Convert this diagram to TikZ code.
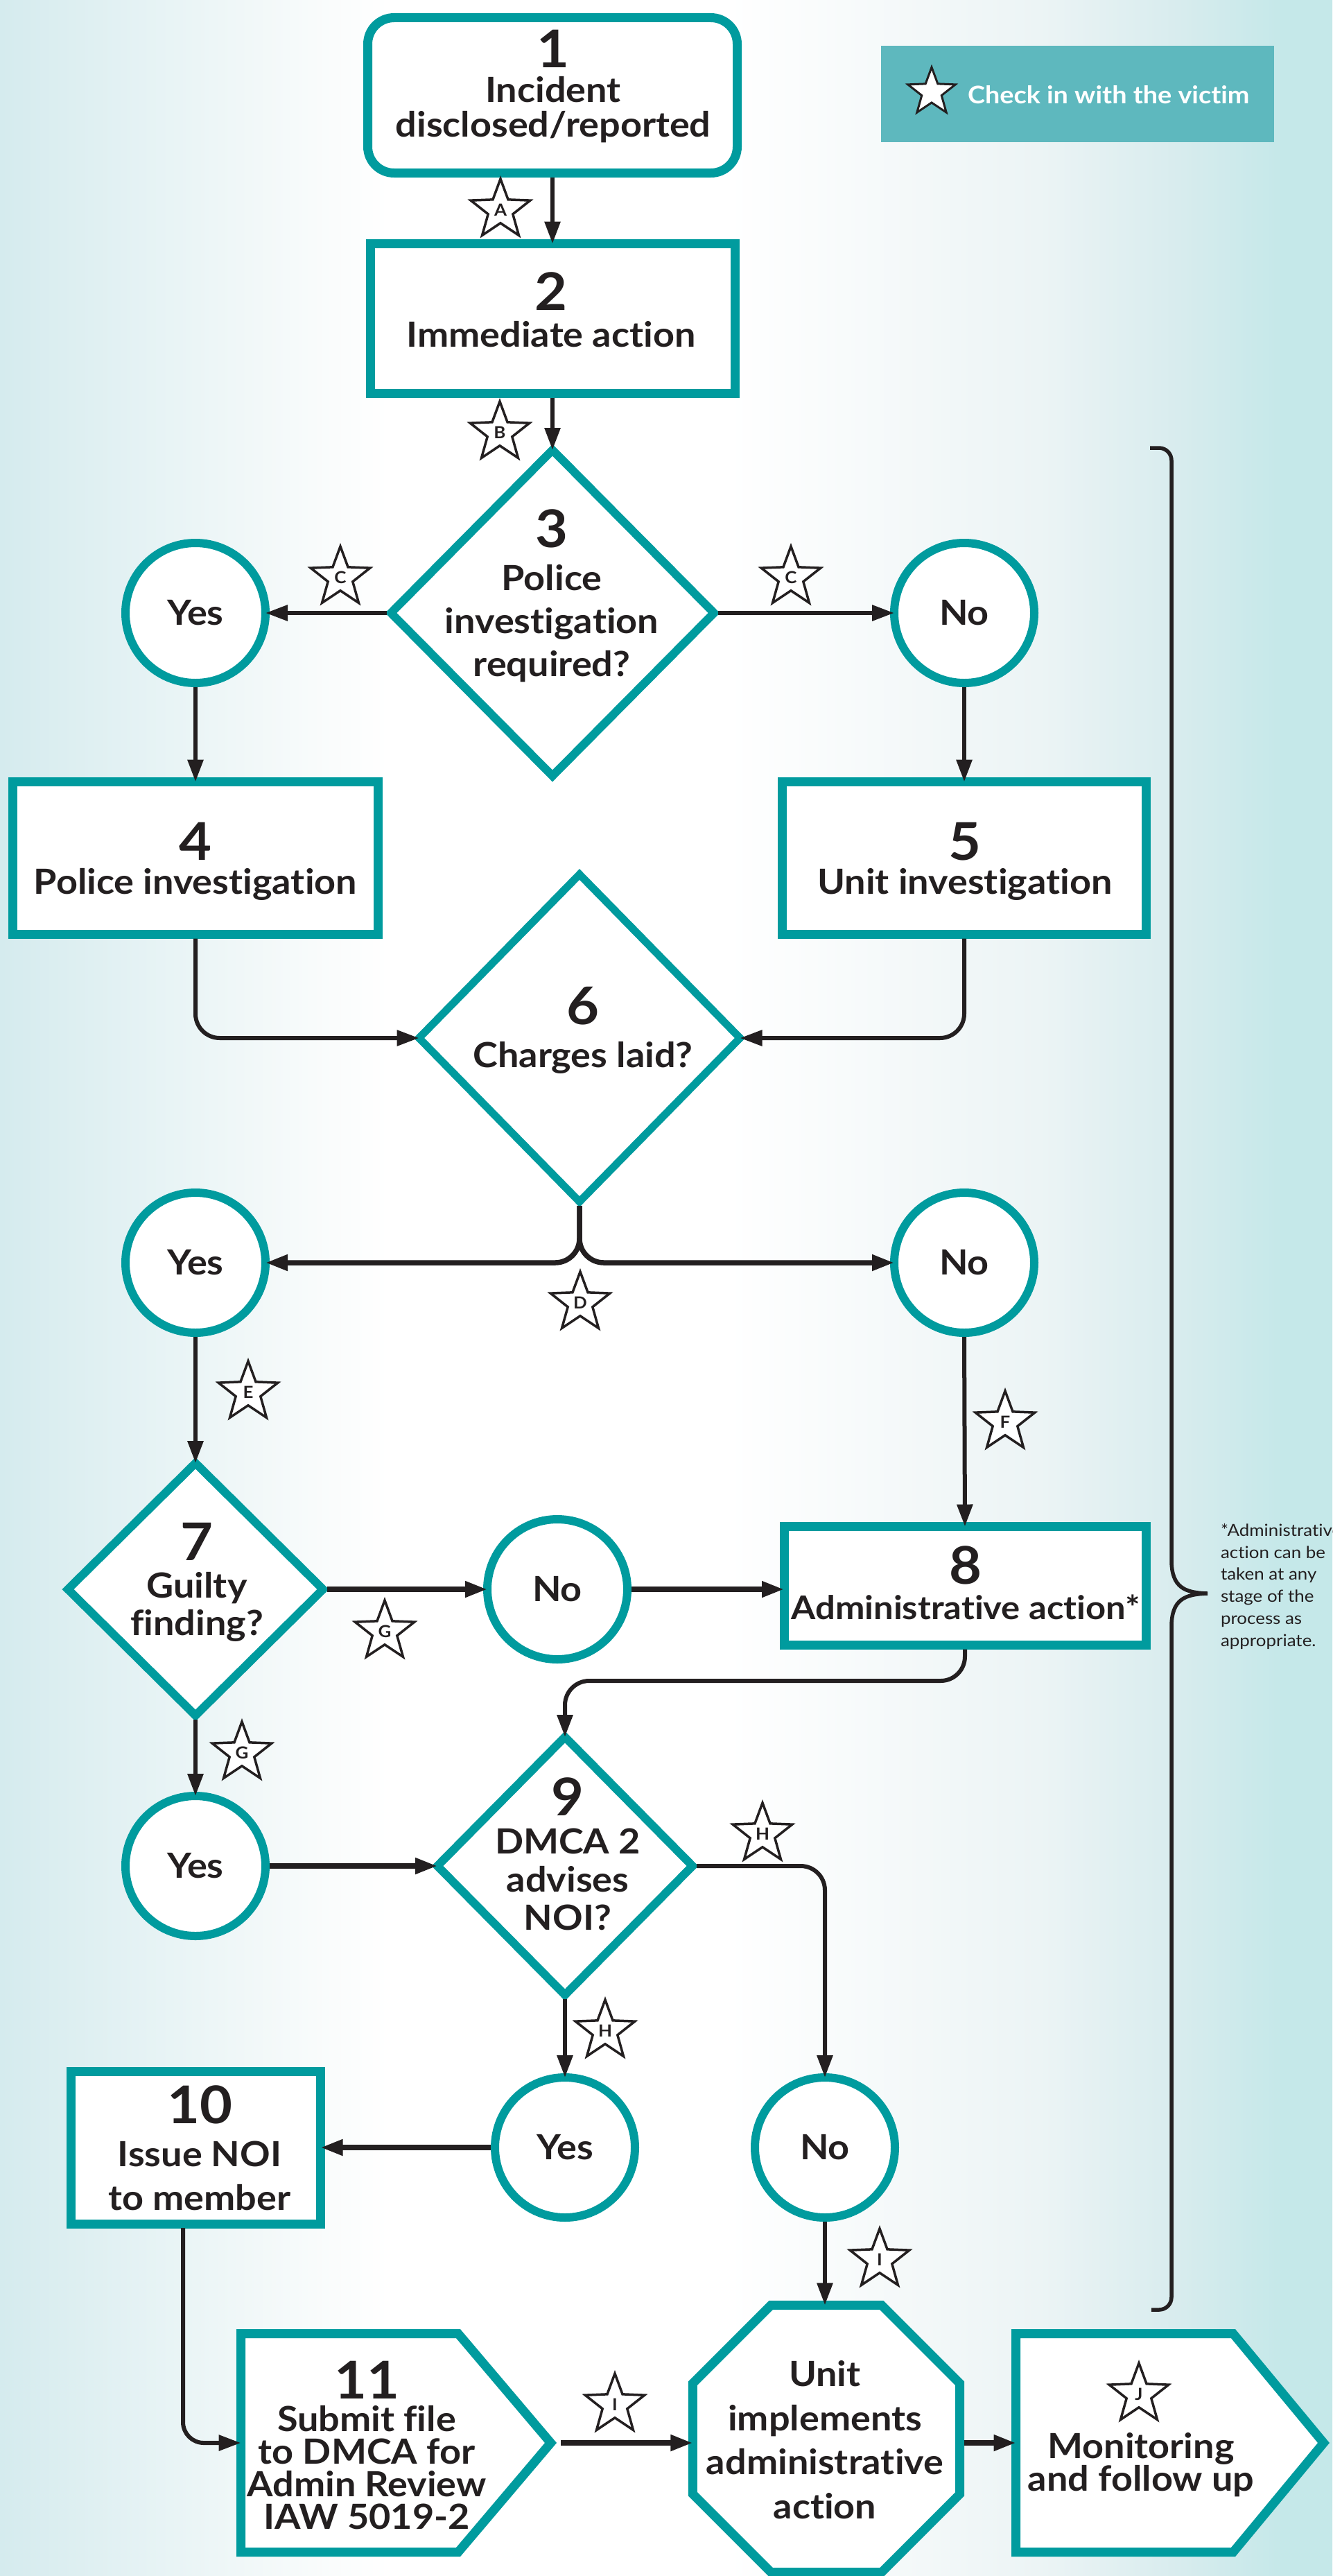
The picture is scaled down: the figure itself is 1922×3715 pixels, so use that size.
\documentclass[tikz,border=0pt]{standalone}
\usepackage{fontspec}
\setmainfont{Lato}[FakeStretch=1.08,Ligatures=NoCommon]
\usetikzlibrary{shapes.geometric,arrows.meta}
\definecolor{brand}{RGB}{0,155,158}
\definecolor{legendfill}{RGB}{94,184,190}
\definecolor{ink}{RGB}{35,31,32}
\definecolor{bgA}{RGB}{213,235,238}
\definecolor{bgB}{RGB}{248,251,251}
\definecolor{bgC}{RGB}{236,244,245}
\definecolor{bgD}{RGB}{216,236,238}
\definecolor{bgE}{RGB}{197,232,233}
\pgfdeclarehorizontalshading{bgshade}{100bp}{color(0bp)=(bgA); color(25bp)=(bgA); color(36.7bp)=(bgB); color(39.6bp)=(white); color(52.3bp)=(white); color(64bp)=(bgC); color(69.2bp)=(bgD); color(73.1bp)=(bgE); color(100bp)=(bgE)}
\newcommand\numf{\fontsize{75}{75}\selectfont\bfseries}
\begin{document}
\begin{tikzpicture}[x=1pt,y=-1pt,
  every node/.style={inner sep=0pt,outer sep=0pt},
  box/.style={rectangle,draw=brand,line width=13pt,fill=white},
  dia/.style={diamond,draw=brand,line width=12pt,fill=white},
  circ/.style={circle,draw=brand,line width=12pt,fill=white,minimum size=202pt,text=ink,font=\fontsize{50}{50}\selectfont\bfseries},
  lbl/.style={align=center,anchor=base,text=ink,font=\fontsize{50}{#1}\selectfont\bfseries},
  starn/.style={star,star points=5,star point ratio=2.4,draw=ink,line width=3.5pt,fill=white,minimum size=90pt,text=ink,font=\fontsize{24}{24}\selectfont\bfseries},
  conn/.style={draw=ink,line width=6pt,shorten <=6pt,-{Triangle[length=32pt,width=22pt]}},
  tconn/.style={conn,line width=7.5pt},
  penta/.style={draw=brand,line width=13pt,fill=white},
  brace/.style={draw=ink,line width=5.5pt},
]
\useasboundingbox (0,0) rectangle (1922,3715);
\begin{scope}
\clip (0,0) rectangle (1922,3715);
\fill[shading=bgshade] (0,0) rectangle (1922,3715);

% legend
\node[fill=legendfill,minimum width=567pt,minimum height=139pt] (leg) at (1554.5,135.5) {};
\node[starn,minimum size=72pt,line width=3pt] (legstar) at (1344,133) {};
\node[anchor=base west,text=white,font=\fontsize{35}{35}\selectfont\bfseries] (legtxt) at (1396,149) {Check in with the victim};

% shapes
\node[box,rounded corners=38pt,minimum width=533pt,minimum height=224pt] (n1) at (797,137.5) {};
\node[box,minimum width=526pt,minimum height=216pt] (n2) at (797,459.5) {};
\node[dia,minimum width=466pt,minimum height=470pt] (d3) at (797,884) {};
\node[circ] (y1) at (282,884) {Yes};
\node[circ] (no1) at (1391,884) {No};
\node[box,minimum width=527pt,minimum height=220pt] (n4) at (282,1237.5) {};
\node[box,minimum width=525pt,minimum height=220pt] (n5) at (1391,1237.5) {};
\node[dia,line width=11pt,minimum width=463pt,minimum height=472pt] (d6) at (836,1497) {};
\node[circ] (y2) at (282,1821) {Yes};
\node[circ] (no2) at (1391,1821) {No};
\node[dia,minimum width=368pt,minimum height=364pt] (d7) at (282,2292) {};
\node[circ] (no3) at (804,2292) {No};
\node[box,minimum width=522pt,minimum height=171pt] (n8) at (1392,2287) {};
\node[circ] (y4) at (282,2691) {Yes};
\node[dia,minimum width=368pt,minimum height=372pt] (d9) at (815,2691) {};
\node[circ] (y5) at (815,3097) {Yes};
\node[circ] (no5) at (1190,3097) {No};
\node[box,minimum width=360pt,minimum height=220pt] (n10) at (282.5,3097) {};
\node[regular polygon,regular polygon sides=8,draw=brand,line width=13pt,fill=white,minimum size=417pt] (oct) at (1192,3517) {};
\draw[penta] (347.5,3365.5) -- (661,3365.5) -- (794.5,3523) -- (661,3680.5) -- (347.5,3680.5) -- cycle;
\coordinate (b11w) at (347.5,3523);
\coordinate (b11e) at (803,3523);
\draw[penta] (1465.5,3365.5) -- (1779,3365.5) -- (1909.5,3523) -- (1779,3680.5) -- (1465.5,3680.5) -- cycle;
\coordinate (b12w) at (1465.5,3523);

% texts
\node[lbl=50] (t1) at (798,197) {{\numf 1}\\Incident\\disclosed/reported};
\node[lbl=53] (t2) at (795,500) {{\numf 2}\\Immediate action};
\node[lbl=62] (t3) at (796,975) {{\numf 3}\\Police\\investigation\\required?};
\node[lbl=49] (t4) at (282,1289) {{\numf 4}\\Police investigation};
\node[lbl=49] (t5) at (1392,1289) {{\numf 5}\\Unit investigation};
\node[lbl=62] (t6) at (841,1539) {{\numf 6}\\Charges laid?};
\node[lbl=54] (t7) at (284,2358) {{\numf 7}\\Guilty\\finding?};
\node[lbl=51] (t8) at (1393,2335) {{\numf 8}\\{\fontsize{47}{51}\selectfont Administrative action*}};
\node[lbl=55] (t9) at (819,2783) {{\numf 9}\\DMCA 2\\advises\\NOI?};
\node[lbl=62.5] (t10) at (288,3187) {{\numf 10}\\Issue NOI\\to member};
\node[lbl=47] (t11) at (529,3647) {{\numf 11}\\Submit file\\to DMCA for\\Admin Review\\IAW 5019-2};
\node[lbl=63.5] (toct) at (1190,3632) {Unit\\implements\\administrative\\action};
\node[lbl=47] (t12) at (1646,3592) {Monitoring\\and follow up};

% connectors
\draw[conn] (n1.south) -- (n2.north);
\draw[conn] (n2.south) -- (d3.north);
\draw[conn] (d3.west) -- (y1.east);
\draw[conn] (d3.east) -- (no1.west);
\draw[conn] (y1.south) -- (n4.north);
\draw[conn] (no1.south) -- (n5.north);
\draw[conn,rounded corners=35pt] (n4.south) |- (d6.west);
\draw[conn,rounded corners=35pt] (n5.south) |- (d6.east);
\draw[tconn,rounded corners=35pt] (d6.south) |- (y2.east);
\draw[tconn,rounded corners=35pt] (d6.south) |- (no2.west);
\draw[conn] (y2.south) -- (d7.north);
\draw[conn] (no2.south) -- (n8.north);
\draw[tconn] (d7.east) -- (no3.west);
\draw[tconn] (no3.east) -- (no3.east -| n8.west);
\coordinate (k8) at (0,2424);
\draw[conn,rounded corners=35pt] (n8.south) |- (d9.north |- k8) -- (d9.north);
\draw[conn] (d7.south) -- (y4.north);
\draw[tconn] (y4.east) -- (d9.west);
\draw[conn,rounded corners=35pt] (d9.east) -| (no5.north);
\draw[conn] (d9.south) -- (y5.north);
\draw[tconn] (y5.west) -- (n10.east);
\draw[conn] (no5.south) -- (no5.south |- oct.north);
\draw[conn,rounded corners=30pt] ([xshift=-18.5pt]n10.south) |- (b11w);
\draw[tconn] (b11e) -- (b11e -| oct.west);
\draw[tconn] (b12w -| oct.east) -- (b12w);

% stars
\node[starn] (sA) at (722,303) {A};
\node[starn] (sB) at (721,624) {B};
\node[starn] (sC1) at (491,833) {C};
\node[starn] (sC2) at (1141,833) {C};
\node[starn] (sD) at (837,1879) {D};
\node[starn] (sE) at (358,2008) {E};
\node[starn] (sF) at (1450,2051) {F};
\node[starn] (sG1) at (555,2353) {G};
\node[starn] (sG2) at (349,2528) {G};
\node[starn] (sH1) at (1100,2645) {H};
\node[starn] (sH2) at (873,2929) {H};
\node[starn] (sI1) at (1269,3259) {I};
\node[starn] (sI2) at (887,3468) {I};
\node[starn] (sJ) at (1643,3453) {J};

% brace and footnote
\draw[brace] (1659,646) -- (1672,646) .. controls (1682,646) and (1690,654) .. (1690,664) -- (1690,2250) .. controls (1690,2290) and (1710,2297) .. (1742,2298) .. controls (1710,2299) and (1690,2306) .. (1690,2346) -- (1690,3313) .. controls (1690,3323) and (1682,3331) .. (1672,3331) -- (1661,3331);
\node[anchor=base west,align=left,text=ink,font=\fontsize{24}{31.7}\selectfont] (foot) at (1761,2374) {*Administrative\\action can be\\taken at any\\stage of the\\process as\\appropriate.};
\end{scope}
\end{tikzpicture}
\end{document}
